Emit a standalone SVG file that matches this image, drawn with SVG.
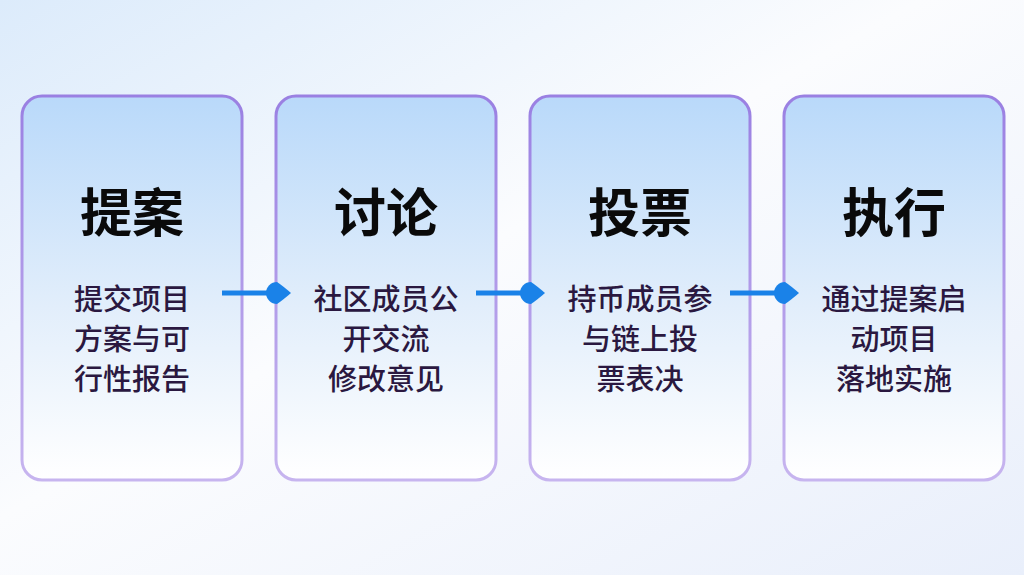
<svg xmlns="http://www.w3.org/2000/svg" width="1024" height="575" viewBox="0 0 1024 575">
<defs>
<linearGradient id="bg" x1="0" y1="0" x2="1" y2="1">
<stop offset="0" stop-color="#dcebfb"/>
<stop offset="0.45" stop-color="#fbfcfe"/>
<stop offset="1" stop-color="#e9effb"/>
</linearGradient>
<linearGradient id="card" x1="0" y1="0" x2="0" y2="1">
<stop offset="0" stop-color="#b9d9fa"/>
<stop offset="0.55" stop-color="#e2eefb"/>
<stop offset="1" stop-color="#ffffff"/>
</linearGradient>
<linearGradient id="cardStroke" x1="0" y1="0" x2="0" y2="1">
<stop offset="0" stop-color="#9a80e2"/>
<stop offset="1" stop-color="#c7b5ef"/>
</linearGradient>
<marker id="dot" viewBox="0 0 26 22" refX="2" refY="11" markerWidth="26" markerHeight="22" markerUnits="userSpaceOnUse" orient="auto">
<path d="M11 0 A11 11 0 1 0 11 22 Q17 18 25 11 Q17 4 11 0 Z" fill="#1a82e8"/>
</marker>
</defs>
<style>
.card{fill:url(#card);stroke:url(#cardStroke);stroke-width:3}
.title{font-family:"Noto Sans CJK SC","Noto Sans",sans-serif;font-size:52px;font-weight:700;fill:#0a0a0a;text-anchor:middle}
.sub{font-family:"Noto Sans CJK SC","Noto Sans",sans-serif;font-size:29px;font-weight:500;fill:#2a1840;text-anchor:middle}
.conn{stroke:#1a82e8;stroke-width:5;fill:none;marker-end:url(#dot)}
</style>
<rect width="1024" height="575" fill="url(#bg)"/>
<g id="node1">
<rect class="card" x="22" y="96" width="220" height="384" rx="20"/>
<text class="title" x="132" y="232">提案</text>
<text class="sub" x="132" y="310">提交项目</text>
<text class="sub" x="132" y="350">方案与可</text>
<text class="sub" x="132" y="390">行性报告</text>
</g>
<g id="node2">
<rect class="card" x="276" y="96" width="220" height="384" rx="20"/>
<text class="title" x="386" y="232">讨论</text>
<text class="sub" x="386" y="310">社区成员公</text>
<text class="sub" x="386" y="350">开交流</text>
<text class="sub" x="386" y="390">修改意见</text>
</g>
<g id="node3">
<rect class="card" x="530" y="96" width="220" height="384" rx="20"/>
<text class="title" x="640" y="232">投票</text>
<text class="sub" x="640" y="310">持币成员参</text>
<text class="sub" x="640" y="350">与链上投</text>
<text class="sub" x="640" y="390">票表决</text>
</g>
<g id="node4">
<rect class="card" x="784" y="96" width="220" height="384" rx="20"/>
<text class="title" x="894" y="232">执行</text>
<text class="sub" x="894" y="310">通过提案启</text>
<text class="sub" x="894" y="350">动项目</text>
<text class="sub" x="894" y="390">落地实施</text>
</g>
<g id="connectors">
<line class="conn" x1="222" y1="293" x2="268" y2="293"/>
<line class="conn" x1="476" y1="293" x2="522" y2="293"/>
<line class="conn" x1="730" y1="293" x2="776" y2="293"/>
</g>
</svg>
